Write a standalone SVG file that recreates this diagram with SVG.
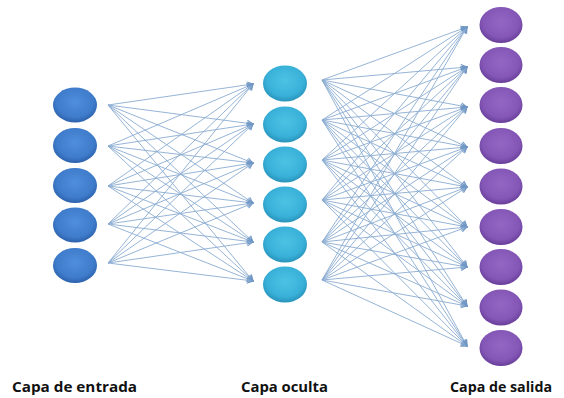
<svg xmlns="http://www.w3.org/2000/svg" width="564" height="398" viewBox="0 0 564 398">
  <defs>
    <radialGradient id="gIn" cx="50%" cy="42%" r="60%">
      <stop offset="0" stop-color="#4f8fdc"/>
      <stop offset="0.7" stop-color="#3f7ccb"/>
      <stop offset="1" stop-color="#2a5ea8"/>
    </radialGradient>
    <radialGradient id="gHid" cx="50%" cy="42%" r="60%">
      <stop offset="0" stop-color="#4cc3e4"/>
      <stop offset="0.7" stop-color="#39b0d8"/>
      <stop offset="1" stop-color="#2590b8"/>
    </radialGradient>
    <radialGradient id="gOut" cx="50%" cy="42%" r="60%">
      <stop offset="0" stop-color="#9466c4"/>
      <stop offset="0.7" stop-color="#8457b6"/>
      <stop offset="1" stop-color="#653b96"/>
    </radialGradient>
    <marker id="arr" markerWidth="8" markerHeight="8" refX="7" refY="4" orient="auto" markerUnits="userSpaceOnUse">
      <path d="M1,1 L7,4 L1,7" fill="none" stroke="#6f96c4" stroke-width="1"/>
    </marker>
  </defs>
  <style>
    .c line { stroke: #8aacd1; stroke-width: 0.9; marker-end: url(#arr); }
    .in { fill: url(#gIn); }
    .hid { fill: url(#gHid); }
    .out { fill: url(#gOut); }
    .lbl { font-family: "Open Sans", "DejaVu Sans", sans-serif; font-weight: bold; font-size: 14.5px; fill: #111; }
  </style>
  <rect width="564" height="398" fill="#ffffff"/>

  <g id="connectors" class="c">
    <!-- input layer to hidden layer -->
    <line x1="108" y1="105" x2="253" y2="84"/><line x1="108" y1="105" x2="253" y2="124"/><line x1="108" y1="105" x2="253" y2="163"/><line x1="108" y1="105" x2="253" y2="203"/><line x1="108" y1="105" x2="253" y2="242"/><line x1="108" y1="105" x2="253" y2="281"/>
    <line x1="108" y1="146" x2="253" y2="84"/><line x1="108" y1="146" x2="253" y2="124"/><line x1="108" y1="146" x2="253" y2="163"/><line x1="108" y1="146" x2="253" y2="203"/><line x1="108" y1="146" x2="253" y2="242"/><line x1="108" y1="146" x2="253" y2="281"/>
    <line x1="108" y1="186" x2="253" y2="84"/><line x1="108" y1="186" x2="253" y2="124"/><line x1="108" y1="186" x2="253" y2="163"/><line x1="108" y1="186" x2="253" y2="203"/><line x1="108" y1="186" x2="253" y2="242"/><line x1="108" y1="186" x2="253" y2="281"/>
    <line x1="108" y1="224" x2="253" y2="84"/><line x1="108" y1="224" x2="253" y2="124"/><line x1="108" y1="224" x2="253" y2="163"/><line x1="108" y1="224" x2="253" y2="203"/><line x1="108" y1="224" x2="253" y2="242"/><line x1="108" y1="224" x2="253" y2="281"/>
    <line x1="108" y1="263" x2="253" y2="84"/><line x1="108" y1="263" x2="253" y2="124"/><line x1="108" y1="263" x2="253" y2="163"/><line x1="108" y1="263" x2="253" y2="203"/><line x1="108" y1="263" x2="253" y2="242"/><line x1="108" y1="263" x2="253" y2="281"/>
    <!-- hidden layer to output layer -->
    <line x1="322" y1="80" x2="467" y2="27"/><line x1="322" y1="80" x2="467" y2="67"/><line x1="322" y1="80" x2="467" y2="107"/><line x1="322" y1="80" x2="467" y2="147"/><line x1="322" y1="80" x2="467" y2="187"/><line x1="322" y1="80" x2="467" y2="227"/><line x1="322" y1="80" x2="467" y2="267"/><line x1="322" y1="80" x2="467" y2="306"/><line x1="322" y1="80" x2="467" y2="346"/>
    <line x1="322" y1="120" x2="467" y2="27"/><line x1="322" y1="120" x2="467" y2="67"/><line x1="322" y1="120" x2="467" y2="107"/><line x1="322" y1="120" x2="467" y2="147"/><line x1="322" y1="120" x2="467" y2="187"/><line x1="322" y1="120" x2="467" y2="227"/><line x1="322" y1="120" x2="467" y2="267"/><line x1="322" y1="120" x2="467" y2="306"/><line x1="322" y1="120" x2="467" y2="346"/>
    <line x1="322" y1="160" x2="467" y2="27"/><line x1="322" y1="160" x2="467" y2="67"/><line x1="322" y1="160" x2="467" y2="107"/><line x1="322" y1="160" x2="467" y2="147"/><line x1="322" y1="160" x2="467" y2="187"/><line x1="322" y1="160" x2="467" y2="227"/><line x1="322" y1="160" x2="467" y2="267"/><line x1="322" y1="160" x2="467" y2="306"/><line x1="322" y1="160" x2="467" y2="346"/>
    <line x1="322" y1="200" x2="467" y2="27"/><line x1="322" y1="200" x2="467" y2="67"/><line x1="322" y1="200" x2="467" y2="107"/><line x1="322" y1="200" x2="467" y2="147"/><line x1="322" y1="200" x2="467" y2="187"/><line x1="322" y1="200" x2="467" y2="227"/><line x1="322" y1="200" x2="467" y2="267"/><line x1="322" y1="200" x2="467" y2="306"/><line x1="322" y1="200" x2="467" y2="346"/>
    <line x1="322" y1="242" x2="467" y2="27"/><line x1="322" y1="242" x2="467" y2="67"/><line x1="322" y1="242" x2="467" y2="107"/><line x1="322" y1="242" x2="467" y2="147"/><line x1="322" y1="242" x2="467" y2="187"/><line x1="322" y1="242" x2="467" y2="227"/><line x1="322" y1="242" x2="467" y2="267"/><line x1="322" y1="242" x2="467" y2="306"/><line x1="322" y1="242" x2="467" y2="346"/>
    <line x1="322" y1="280" x2="467" y2="27"/><line x1="322" y1="280" x2="467" y2="67"/><line x1="322" y1="280" x2="467" y2="107"/><line x1="322" y1="280" x2="467" y2="147"/><line x1="322" y1="280" x2="467" y2="187"/><line x1="322" y1="280" x2="467" y2="227"/><line x1="322" y1="280" x2="467" y2="267"/><line x1="322" y1="280" x2="467" y2="306"/><line x1="322" y1="280" x2="467" y2="346"/>
  </g>

  <!-- input layer -->
  <g id="in1"><ellipse class="in" cx="75" cy="105" rx="22" ry="17.5"/></g>
  <g id="in2"><ellipse class="in" cx="75" cy="145.5" rx="22" ry="17.5"/></g>
  <g id="in3"><ellipse class="in" cx="75" cy="185.5" rx="22" ry="17.5"/></g>
  <g id="in4"><ellipse class="in" cx="75" cy="225" rx="22" ry="17.5"/></g>
  <g id="in5"><ellipse class="in" cx="75" cy="265.5" rx="22" ry="17.5"/></g>

  <!-- hidden layer -->
  <g id="hid1"><ellipse class="hid" cx="285" cy="83.5" rx="22" ry="18"/></g>
  <g id="hid2"><ellipse class="hid" cx="285" cy="124.5" rx="22" ry="18"/></g>
  <g id="hid3"><ellipse class="hid" cx="285" cy="164.5" rx="22" ry="18"/></g>
  <g id="hid4"><ellipse class="hid" cx="285" cy="204.5" rx="22" ry="18"/></g>
  <g id="hid5"><ellipse class="hid" cx="285" cy="244.5" rx="22" ry="18"/></g>
  <g id="hid6"><ellipse class="hid" cx="285" cy="284.5" rx="22" ry="18"/></g>

  <!-- output layer -->
  <g id="out1"><ellipse class="out" cx="501" cy="25" rx="21.5" ry="18"/></g>
  <g id="out2"><ellipse class="out" cx="501" cy="65" rx="21.5" ry="18"/></g>
  <g id="out3"><ellipse class="out" cx="501" cy="105" rx="21.5" ry="18"/></g>
  <g id="out4"><ellipse class="out" cx="501" cy="146" rx="21.5" ry="18"/></g>
  <g id="out5"><ellipse class="out" cx="501" cy="186.5" rx="21.5" ry="18"/></g>
  <g id="out6"><ellipse class="out" cx="501" cy="227" rx="21.5" ry="18"/></g>
  <g id="out7"><ellipse class="out" cx="501" cy="267" rx="21.5" ry="18"/></g>
  <g id="out8"><ellipse class="out" cx="501" cy="307.5" rx="21.5" ry="18"/></g>
  <g id="out9"><ellipse class="out" cx="501" cy="348" rx="21.5" ry="18"/></g>

  <!-- layer captions -->
  <g id="labels">
    <text class="lbl" x="12" y="392" textLength="125" lengthAdjust="spacingAndGlyphs">Capa de entrada</text>
    <text class="lbl" x="241" y="392" textLength="87" lengthAdjust="spacingAndGlyphs">Capa oculta</text>
    <text class="lbl" x="450" y="392" textLength="102" lengthAdjust="spacingAndGlyphs">Capa de salida</text>
  </g>
</svg>
